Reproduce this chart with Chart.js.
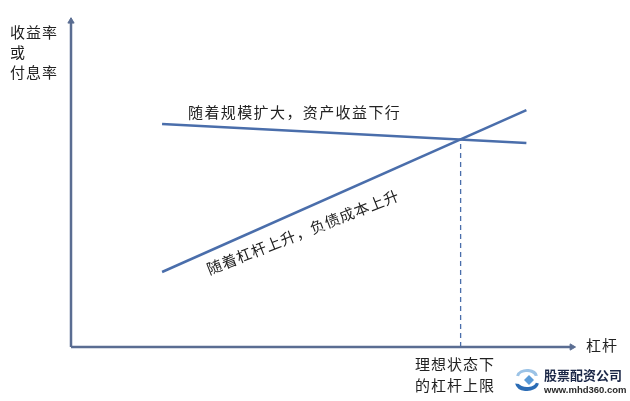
<!DOCTYPE html>
<html>
<head>
<meta charset="utf-8">
<script src="https://cdn.jsdelivr.net/npm/chart.js@4.4.1/dist/chart.umd.min.js"></script>
<style>
html,body{margin:0;padding:0;background:#fff;}
#wrap{width:630px;height:401px;position:relative;}
</style>
</head>
<body>
<div id="wrap"><canvas id="c" width="630" height="401"></canvas></div>
<script>
// ---- data ----
const leverage = [18, 90];                 // x positions of line ends
const assetReturn = [67.8, 62.0];          // 资产收益 (declining)
const debtCost = [22.8, 72.0];             // 负债成本 (rising)
const idealLeverageX = [77, 77];           // 理想状态下的杠杆上限
const idealLeverageY = [0, 63.1];
const axisRange = [0, 100];
const axisEnd = [0, 99];

const yAxisTitle = ['收益率', '或', '付息率'];
const xAxisTitle = '杠杆';
const idealLabel = ['理想状态下', '的杠杆上限'];
const assetLabel = '随着规模扩大，资产收益下行';
const debtLabel = '随着杠杆上升，负债成本上升';
const wmTitle = '股票配资公司';
const wmUrl = 'www.mhd360.com';

const LINE = '#4a6eab';
const AXIS = '#5a6d92';
const CJK = '"Noto Sans CJK SC", "Noto Sans", sans-serif';

const pts = (xs, ys) => xs.map((x, i) => ({x, y: ys[i]}));

const textPlugin = {
  id: 'texts',
  afterDraw(chart) {
    const ctx = chart.ctx;
    ctx.save();
    ctx.fillStyle = '#222';
    ctx.textBaseline = 'middle';
    // y axis title
    ctx.font = '15px ' + CJK;
    ctx.textAlign = 'left';
    ctx.letterSpacing = '1px';
    const yRows = [32, 52, 72];
    yAxisTitle.forEach((t, i) => ctx.fillText(t, 10, yRows[i]));
    // x axis title
    ctx.fillText(xAxisTitle, 586, 345);
    // ideal label
    ctx.textAlign = 'center';
    ctx.fillText(idealLabel[0], 455, 364);
    ctx.fillText(idealLabel[1], 455, 385);
    // asset label
    ctx.textAlign = 'left';
    ctx.letterSpacing = '1.4px';
    ctx.fillText(assetLabel, 188, 112);
    // debt label rotated
    ctx.save();
    ctx.translate(303, 232);
    ctx.rotate(-21.5 * Math.PI / 180);
    ctx.textAlign = 'center';
    ctx.letterSpacing = '0.8px';
    ctx.fillText(debtLabel, 0, 0);
    ctx.restore();
    ctx.letterSpacing = '0px';

    // watermark logo
    ctx.save();
    ctx.translate(527, 380);
    ctx.fillStyle = '#9cc3e6';
    ctx.beginPath();
    ctx.ellipse(0, -3, 11, 8, 0, Math.PI * 1.05, Math.PI * 1.95);
    ctx.lineTo(8, -4);
    ctx.ellipse(0, -3, 8, 5, 0, Math.PI * 1.95, Math.PI * 1.05, true);
    ctx.closePath();
    ctx.fill();
    ctx.fillStyle = '#2b6cb5';
    ctx.beginPath();
    ctx.ellipse(0, 2, 12, 9, 0, Math.PI * 0.05, Math.PI * 0.95);
    ctx.lineTo(-8, 4);
    ctx.ellipse(0, 2, 9, 5, 0, Math.PI * 0.95, Math.PI * 0.05, true);
    ctx.closePath();
    ctx.fill();
    ctx.fillStyle = '#5b9bd8';
    ctx.beginPath();
    ctx.moveTo(2, -5); ctx.lineTo(7, 0); ctx.lineTo(2, 5); ctx.lineTo(-3, 0);
    ctx.closePath();
    ctx.fill();
    ctx.restore();
    ctx.fillStyle = '#1b2747';
    ctx.textAlign = 'left';
    ctx.font = 'bold 13px ' + CJK;
    ctx.fillText(wmTitle, 544, 375);
    ctx.fillStyle = '#2a2a2a';
    ctx.font = 'bold 9.5px "Liberation Sans", Arial, sans-serif';
    ctx.fillText(wmUrl, 544, 390);
    ctx.restore();
  }
};

new Chart(document.getElementById('c'), {
  type: 'scatter',
  data: {
    datasets: [
      { data: pts([axisEnd[0], axisEnd[0]], axisEnd), showLine: true, borderColor: AXIS, backgroundColor: AXIS,
        borderWidth: 2.5, pointStyle: 'triangle', pointRadius: [0, 3.6], pointBorderWidth: 1, pointRotation: 0, clip: false },
      { data: pts(axisEnd, [axisEnd[0], axisEnd[0]]), showLine: true, borderColor: AXIS, backgroundColor: AXIS,
        borderWidth: 2.5, pointStyle: 'triangle', pointRadius: [0, 3.6], pointBorderWidth: 1, pointRotation: 90, clip: false },
      { data: pts(leverage, assetReturn), showLine: true, borderColor: LINE, borderWidth: 2.5, pointRadius: 0, clip: false },
      { data: pts(leverage, debtCost), showLine: true, borderColor: LINE, borderWidth: 2.5, pointRadius: 0, clip: false },
      { data: pts(idealLeverageX, idealLeverageY), showLine: true, borderColor: LINE, borderWidth: 1.3,
        borderDash: [5, 4], pointRadius: 0, clip: false }
    ]
  },
  options: {
    responsive: false,
    animation: false,
    devicePixelRatio: 1,
    layout: { padding: { left: 71, right: 53, top: 18, bottom: 54 } },
    scales: {
      x: { type: 'linear', min: axisRange[0], max: axisRange[1], display: false },
      y: { type: 'linear', min: axisRange[0], max: axisRange[1], display: false }
    },
    plugins: { legend: { display: false }, tooltip: { enabled: false } },
    elements: { line: { tension: 0 } }
  },
  plugins: [textPlugin]
});
</script>
</body>
</html>
